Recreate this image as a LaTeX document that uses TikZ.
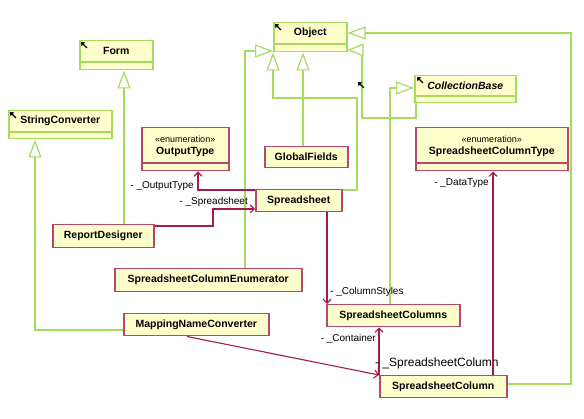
\documentclass[tikz,border=0pt]{standalone}
\usepackage{fontspec}
\setmainfont{Liberation Sans}
\usetikzlibrary{arrows.meta}
\definecolor{gline}{RGB}{165,220,95}
\definecolor{rline}{RGB}{165,25,80}
\definecolor{rbord}{RGB}{185,70,110}
\definecolor{fillc}{RGB}{255,255,204}
\tikzset{
 cls/.style={draw, fill=fillc, line width=1.5pt, anchor=north west, inner sep=0pt},
 ext/.style={cls, draw=gline},
 own/.style={cls, draw=rbord},
 ttl/.style={font=\bfseries\fontsize{10.5}{12}\selectfont, inner sep=0pt},
 ster/.style={font=\fontsize{9}{10}\selectfont, inner sep=0pt},
 lbl/.style={font=\fontsize{10}{11}\selectfont, inner sep=0pt},
 gen/.style={draw=gline, line width=1.2pt, -{Triangle[fill=white, length=18pt, width=13pt]}},
 assoc/.style={draw=rline, line width=1.1pt, -{Straight Barb[length=4pt, width=8pt]}},
 icon/.style={line width=1.4pt, -{Triangle[length=3.2pt, width=5pt]}},
 divg/.style={draw=gline, line width=1.5pt},
 divr/.style={draw=rbord, line width=1.5pt}
}
\begin{document}
\begin{tikzpicture}[x=1pt, y=-1pt]
\useasboundingbox (0,0) rectangle (584,419);
\fill[white] (0,0) rectangle (584,419);

% ---------- classes ----------
\node[ext, minimum width=73pt, minimum height=29pt] (form) at (79,40) {};
\draw[divg] (form.west |- 0,62) -- (form.east |- 0,62);
\node[ttl] at (form.center |- 0,51) {Form};

\node[ext, minimum width=103pt, minimum height=28pt] (sc) at (8,110) {};
\draw[divg] (sc.west |- 0,132) -- (sc.east |- 0,132);
\node[ttl] at (sc.center |- 0,121) {StringConverter};

\node[ext, minimum width=73pt, minimum height=29pt] (obj) at (273,22) {};
\draw[divg] (obj.west |- 0,44) -- (obj.east |- 0,44);
\node[ttl] at (obj.center |- 0,33) {Object};

\node[ext, minimum width=101pt, minimum height=27pt] (cb) at (414,75) {};
\draw[divg] (cb.west |- 0,96) -- (cb.east |- 0,96);
\node[ttl, font=\bfseries\itshape\fontsize{10.5}{12}\selectfont] at (cb.center |- 0,86) {CollectionBase};

\node[own, minimum width=87pt, minimum height=43pt] (ot) at (141,127) {};
\draw[divr] (ot.west |- 0,163) -- (ot.east |- 0,163);
\node[ster] at (ot.center |- 0,139) {«enumeration»};
\node[ttl] at (ot.center |- 0,152) {OutputType};

\node[own, minimum width=152pt, minimum height=43pt] (sct) at (415,127) {};
\draw[divr] (sct.west |- 0,163) -- (sct.east |- 0,163);
\node[ster] at (sct.center |- 0,139) {«enumeration»};
\node[ttl] at (sct.center |- 0,152) {SpreadsheetColumnType};

\node[own, minimum width=83pt, minimum height=21pt] (gf) at (264,146) {};
\node[ttl] at (gf.center) {GlobalFields};

\node[own, minimum width=86pt, minimum height=22pt] (ss) at (255,189) {};
\node[ttl] at (ss.center) {Spreadsheet};

\node[own, minimum width=101pt, minimum height=23pt] (rd) at (52,224) {};
\node[ttl] at (rd.center) {ReportDesigner};

\node[own, minimum width=187pt, minimum height=23pt] (sce) at (114,268) {};
\node[ttl] at (sce.center) {SpreadsheetColumnEnumerator};

\node[own, minimum width=145pt, minimum height=22pt] (mnc) at (123,313) {};
\node[ttl] at (mnc.center) {MappingNameConverter};

\node[own, minimum width=133pt, minimum height=22pt] (scs) at (326,304) {};
\node[ttl] at (scs.center) {SpreadsheetColumns};

\node[own, minimum width=127pt, minimum height=22pt] (scol) at (379,375) {};
\node[ttl] at (scol.center) {SpreadsheetColumn};

% ---------- generalizations ----------
\draw[gen] (124,0 |- rd.north) -- (124,0 |- form.south);
\draw[gen] (mnc.west |- 0,330) -- (35,330) -- (35,0 |- sc.south);
\draw[gen] (303,0 |- gf.north) -- (303,0 |- obj.south);
\draw[gen] (ss.east |- 0,190) -- (357,190) -- (357,98) -- (273,98) -- (273,0 |- obj.south);
\draw[gen] (245,0 |- sce.north) -- (245,51) -- (obj.west |- 0,51);
\draw[gen] (scol.east |- 0,384) -- (571,384) -- (571,33) -- (obj.east |- 0,33);
\draw[gen, -{Triangle[fill=white, length=16pt, width=13pt]}] (416,0 |- cb.south) -- (416,118) -- (362,118) -- (362,50) -- (obj.east |- 0,50);
\draw[gen] (390,0 |- scs.north) -- (390,88) -- (cb.west |- 0,88);

% ---------- associations ----------
\draw[assoc] (ss.west |- 0,190) -- (198,190) -- (198,0 |- ot.south);
\node[lbl, anchor=east] at (194,186) {- \_OutputType};

\draw[assoc] (rd.east |- 0,226) -- (213,226) -- (213,209) -- (ss.west |- 0,209);
\node[lbl, anchor=east] at (248,202) {- \_Spreadsheet};

\draw[assoc] (327,0 |- ss.south) -- (327,0 |- scs.north);
\node[lbl, anchor=west] at (330,292) {- \_ColumnStyles};

\draw[assoc] (379,0 |- scol.north) -- (379,0 |- scs.south);
\node[lbl, anchor=east] at (376,339) {- \_Container};

\draw[assoc] (187,0 |- mnc.south) -- (scol.north west);
\node[lbl, anchor=west, font=\fontsize{12}{13}\selectfont] at (375,363) {- \_SpreadsheetColumn};

\draw[assoc] (493,0 |- scol.north) -- (493,0 |- sct.south);
\node[lbl, anchor=east] at (489,183) {- \_DataType};

% ---------- external-class icons ----------
\draw[icon] (87,48) -- (81,42);
\draw[icon] (16,118) -- (10,112);
\draw[icon] (281,30) -- (275,24);
\draw[icon] (423,83) -- (417,77);
\draw[icon] (364,88) -- (358,82);
\end{tikzpicture}
\end{document}
